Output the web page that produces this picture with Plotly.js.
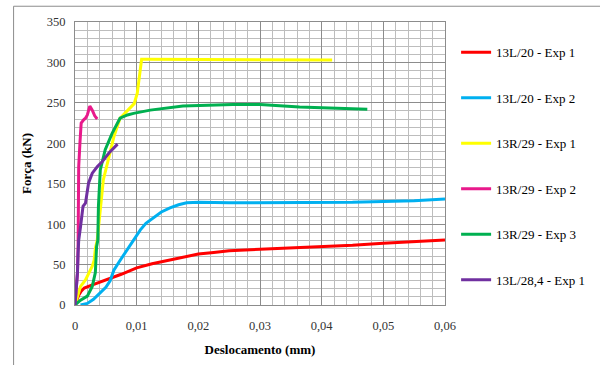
<!DOCTYPE html>
<html>
<head>
<meta charset="utf-8">
<script src="https://cdn.plot.ly/plotly-3.0.1.min.js"></script>
<style>html,body{margin:0;padding:0;background:#fff;}#chart{width:600px;height:365px;}</style>
</head>
<body>
<div id="chart"></div>
<script>
// Series names
const seriesNames = ["13L/20 - Exp 1", "13L/20 - Exp 2", "13R/29 - Exp 1", "13R/29 - Exp 2", "13R/29 - Exp 3", "13L/28,4 - Exp 1"];

// 13L/20 - Exp 1
const red_x = [0, 0.0003, 0.0006, 0.001, 0.0015, 0.0025, 0.004, 0.0057, 0.0075, 0.01, 0.0125, 0.015, 0.0175, 0.02, 0.0225, 0.025, 0.03, 0.035, 0.04, 0.045, 0.05, 0.055, 0.06];
const red_y = [0, 6, 12, 17, 21, 24, 28, 33, 38, 46, 51, 55, 59, 63, 65, 67, 69, 70.5, 72, 74, 76.5, 78.5, 80.5];

// 13L/20 - Exp 2
const cyan_x = [0.0009, 0.002, 0.003, 0.0041, 0.005, 0.0057, 0.0063, 0.0073, 0.0084, 0.0095, 0.0106, 0.0115, 0.0127, 0.014, 0.0154, 0.0168, 0.0181, 0.0202, 0.025, 0.03, 0.035, 0.04, 0.045, 0.05, 0.055, 0.06];
const cyan_y = [0, 2, 7, 15, 22, 30, 43, 55, 68, 81, 93, 101, 108, 115, 120, 124, 126.5, 127, 126.5, 126.5, 126.5, 126.5, 127, 128, 129, 131];

// 13R/29 - Exp 1
const yellow_x = [0, 0.0009, 0.0017, 0.0028, 0.0031, 0.0033, 0.0036, 0.0038, 0.0041, 0.0046, 0.0055, 0.0063, 0.0073, 0.0084, 0.0096, 0.0101, 0.0103, 0.0106, 0.0108, 0.0115, 0.02, 0.03, 0.0417];
const yellow_y = [0, 23, 31, 48, 55, 70, 80, 97, 122, 155, 183, 208, 231, 239, 249, 262, 274, 294, 304, 304, 303.5, 303, 303];

// 13R/29 - Exp 2
const magenta_x = [0, 0.0003, 0.0004, 0.0005, 0.0005, 0.0006, 0.0006, 0.0008, 0.0009, 0.001, 0.0014, 0.0017, 0.002, 0.0024, 0.0028, 0.0032, 0.0036];
const magenta_y = [0, 25, 40, 72, 138, 140, 171, 200, 222, 225, 229, 231, 235, 246, 241, 234, 230];

// 13R/29 - Exp 3
const green_x = [0, 0.0009, 0.002, 0.0028, 0.0033, 0.0035, 0.0037, 0.0038, 0.0041, 0.0049, 0.006, 0.0068, 0.0073, 0.0085, 0.0095, 0.0122, 0.0175, 0.0256, 0.03, 0.0364, 0.042, 0.0474];
const green_y = [0, 6, 11, 23, 40, 72, 80, 122, 167, 192, 212, 225, 231, 235, 237, 241, 246, 248, 248, 245, 243.5, 242];

// 13L/28,4 - Exp 1
const purple_x = [0, 0.0004, 0.0005, 0.0006, 0.0009, 0.0013, 0.0017, 0.0022, 0.0028, 0.0036, 0.0044, 0.0055, 0.0069];
const purple_y = [0, 40, 64, 80, 97, 122, 126, 151, 163, 171, 177, 188, 199];

const xs = [red_x, cyan_x, yellow_x, magenta_x, green_x, purple_x];
const ys = [red_y, cyan_y, yellow_y, magenta_y, green_y, purple_y];
const colors = ["#FF0000", "#00B0F0", "#FFFF00", "#E8198B", "#00B050", "#7030A0"];

const traces = seriesNames.map((n, i) => ({
  x: xs[i], y: ys[i], name: n, type: "scatter", mode: "lines",
  line: {color: colors[i], width: 3},
  legendgroup: "g" + i
}));

const serif = "Liberation Serif";

const layout = {
  width: 600, height: 365,
  margin: {l: 74.5, r: 155, t: 22, b: 60, autoexpand: false},
  paper_bgcolor: "#ffffff", plot_bgcolor: "#ffffff",
  font: {family: serif},
  separators: ",.",
  showlegend: true,
  legend: {
    x: 1.03, y: 0.946, xanchor: "left", yanchor: "top",
    font: {family: serif, size: 13, color: "#000"},
    tracegroupgap: 25.6, itemwidth: 30, bgcolor: "rgba(0,0,0,0)"
  },
  xaxis: {
    range: [0, 0.06], dtick: 0.01, tick0: 0,
    showgrid: true, gridcolor: "#8c8c8c", gridwidth: 1,
    minor: {dtick: 0.002, showgrid: true, gridcolor: "#bdbdbd", gridwidth: 1},
    showline: true, linecolor: "#8c8c8c", mirror: true, zeroline: false,
    ticks: "", ticklabelstandoff: 9,
    tickfont: {family: serif, size: 12.5, color: "#333"},
    title: {text: "<b>Deslocamento (mm)</b>", font: {family: serif, size: 13, color: "#000"}, standoff: 12}
  },
  yaxis: {
    range: [0, 350], dtick: 50, tick0: 0,
    showgrid: true, gridcolor: "#8c8c8c", gridwidth: 1,
    minor: {dtick: 10, showgrid: true, gridcolor: "#bdbdbd", gridwidth: 1},
    showline: true, linecolor: "#8c8c8c", mirror: true, zeroline: false,
    ticks: "", ticklabelstandoff: 6,
    tickfont: {family: serif, size: 12.5, color: "#333"},
    title: {text: "<b>Força (kN)</b>", font: {family: serif, size: 13, color: "#000"}, standoff: 12}
  },
  shapes: [{
    type: "rect", xref: "paper", yref: "paper",
    x0: -0.166, x1: 2, y0: -0.6, y1: 1.0557,
    line: {color: "#8c8c8c", width: 1}, fillcolor: "rgba(0,0,0,0)", layer: "below"
  }]
};

Plotly.newPlot("chart", traces, layout, {displayModeBar: false, staticPlot: true});
</script>
</body>
</html>
